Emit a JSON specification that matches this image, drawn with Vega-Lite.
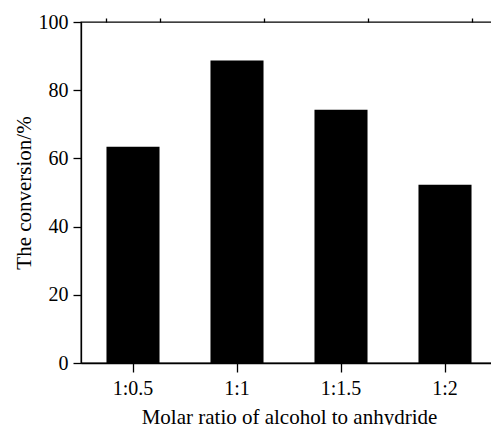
{
  "$schema": "https://vega.github.io/schema/vega-lite/v6.json",
  "autosize": "none",
  "padding": {"left": 81, "top": 22, "right": 0, "bottom": 62},
  "width": 416,
  "height": 341,
  "background": "white",
  "config": {
    "view": {"stroke": "black", "strokeWidth": 1.3},
    "font": "Liberation Serif",
    "axis": {
      "domainColor": "black",
      "domainWidth": 1.3,
      "tickColor": "black",
      "tickWidth": 1.3,
      "labelColor": "black",
      "titleColor": "black",
      "labelFont": "Liberation Serif",
      "titleFont": "Liberation Serif",
      "labelFontSize": 20,
      "titleFontSize": 21,
      "titleFontWeight": "normal",
      "grid": false
    }
  },
  "data": {
    "values": [
      {"ratio": "1:0.5", "conversion": 63.4},
      {"ratio": "1:1", "conversion": 88.7},
      {"ratio": "1:1.5", "conversion": 74.3},
      {"ratio": "1:2", "conversion": 52.3}
    ]
  },
  "layer": [
    {
      "mark": {"type": "bar", "color": "black"},
      "encoding": {
        "x": {
          "field": "ratio",
          "type": "nominal",
          "sort": null,
          "scale": {"paddingInner": 0.49, "paddingOuter": 0.245},
          "axis": {
            "title": "Molar ratio of alcohol to anhydride",
            "labelAngle": 0,
            "tickSize": 9,
            "labelPadding": 6,
            "titlePadding": 8
          }
        },
        "y": {
          "field": "conversion",
          "type": "quantitative",
          "scale": {"domain": [0, 100], "nice": false},
          "axis": {
            "title": "The conversion/%",
            "values": [0, 20, 40, 60, 80, 100],
            "tickSize": 8,
            "labelPadding": 5,
            "titlePadding": 4
          }
        }
      }
    },
    {
      "mark": {"type": "bar", "opacity": 0},
      "encoding": {
        "x": {
          "field": "ratio",
          "type": "nominal",
          "sort": null,
          "axis": {
            "title": null,
            "labels": false,
            "domain": false,
            "ticks": true,
            "tickBand": "extent",
            "tickSize": 4,
            "offset": 0
          }
        },
        "y": {"field": "conversion", "type": "quantitative"}
      }
    }
  ],
  "resolve": {"axis": {"x": "independent"}}
}
